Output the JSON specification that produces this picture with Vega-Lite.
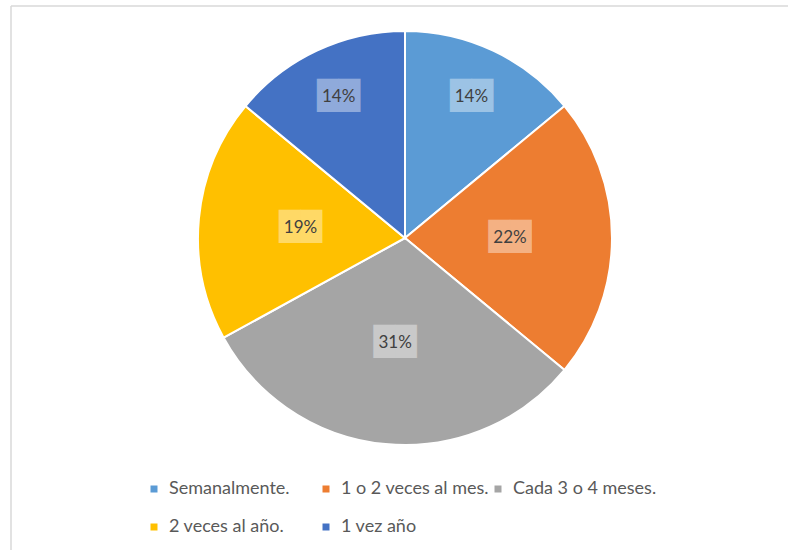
{
  "$schema": "https://vega.github.io/schema/vega-lite/v6.json",
  "width": 777,
  "height": 544,
  "padding": {"left": 11, "top": 6, "right": 0, "bottom": 0},
  "autosize": {"type": "none"},
  "background": "white",
  "config": {"view": {"stroke": null}},
  "data": {
    "values": [
      {"cat": "Semanalmente.", "pct": 0.14, "ord": 1, "label": "14%"},
      {"cat": "1 o 2 veces al mes.", "pct": 0.22, "ord": 2, "label": "22%"},
      {"cat": "Cada 3 o 4 meses.", "pct": 0.31, "ord": 3, "label": "31%"},
      {"cat": "2 veces al año.", "pct": 0.19, "ord": 4, "label": "19%"},
      {"cat": "1 vez año", "pct": 0.14, "ord": 5, "label": "14%"}
    ]
  },
  "layer": [
    {
      "data": {"values": [{"frame": 1}]},
      "mark": {"type": "rule", "color": "#d9d9d9", "strokeWidth": 1.5},
      "encoding": {"x": {"value": 0}}
    },
    {
      "data": {"values": [{"frame": 1}]},
      "mark": {"type": "rule", "color": "#d9d9d9", "strokeWidth": 1.5},
      "encoding": {"y": {"value": 0}}
    },
    {
      "mark": {"type": "arc", "outerRadius": 207, "stroke": "white", "strokeWidth": 2, "xOffset": 5.5, "yOffset": -40},
      "encoding": {
        "theta": {"field": "pct", "type": "quantitative", "stack": true},
        "order": {"field": "ord", "type": "quantitative"},
        "color": {
          "field": "cat",
          "type": "nominal",
          "sort": null,
          "scale": {
            "domain": ["Semanalmente.", "1 o 2 veces al mes.", "Cada 3 o 4 meses.", "2 veces al año.", "1 vez año"],
            "range": ["#5B9BD5", "#ED7D31", "#A5A5A5", "#FFC000", "#4472C4"]
          },
          "legend": {
            "title": null,
            "orient": "none",
            "legendX": 134,
            "legendY": 474,
            "direction": "horizontal",
            "columns": 3,
            "gridAlign": "all",
            "columnPadding": -4,
            "rowPadding": 20,
            "symbolType": "square",
            "symbolSize": 49,
            "symbolStrokeWidth": 0,
            "labelOffset": 6,
            "labelFont": "Lato",
            "labelFontSize": 18,
            "labelColor": "#595959",
            "labelLimit": 300,
            "padding": 0
          }
        }
      }
    },
    {
      "mark": {"type": "text", "text": "██", "font": "DejaVu Sans", "fontSize": 28, "color": "white", "opacity": 0.4, "baseline": "middle", "align": "center", "xOffset": 5.5, "yOffset": -40},
      "encoding": {
        "theta": {"field": "pct", "type": "quantitative", "stack": true},
        "order": {"field": "ord", "type": "quantitative"},
        "detail": {"field": "cat"},
        "radius": {"field": "pct", "type": "quantitative", "scale": {"type": "linear", "domain": [0.14, 0.19], "range": [156, 105], "clamp": true, "zero": false}}
      }
    },
    {
      "mark": {"type": "text", "font": "Lato", "fontSize": 17, "color": "#404040", "baseline": "middle", "align": "center", "xOffset": 5.5, "yOffset": -40},
      "encoding": {
        "theta": {"field": "pct", "type": "quantitative", "stack": true},
        "order": {"field": "ord", "type": "quantitative"},
        "detail": {"field": "cat"},
        "text": {"field": "label"},
        "radius": {"field": "pct", "type": "quantitative", "scale": {"type": "linear", "domain": [0.14, 0.19], "range": [156, 105], "clamp": true, "zero": false}}
      }
    }
  ]
}
